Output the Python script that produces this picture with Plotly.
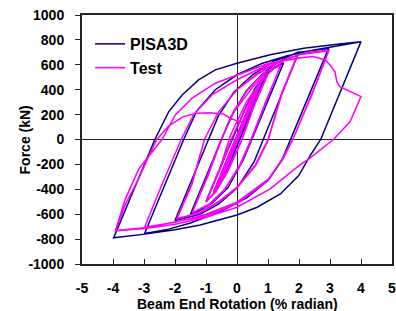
import plotly.graph_objects as go

# ---------------- PISA3D (analysis) : beam end rotation (% rad) / force (kN) ----------------
pisa_small_rot = [0, 0.375, -0.375, 0.5, -0.5]
pisa_small_f = [0, 225, -225, 300, -300]

pisa_075_rot = [0.55, 0.75, 0.03, -0.4, -0.62, -0.75]
pisa_075_f = [330, 430, 0, -250, -360, -420]

pisa_100_rot = [-0.05, 0.4, 0.62, 0.85, 1.0, 0.09, -0.3, -0.6, -0.8, -1.0]
pisa_100_f = [0, 240, 370, 480, 545, 0, -230, -380, -450, -500]

pisa_150_rot = [-0.17, 0.25, 0.6, 1.0, 1.25, 1.5, 0.48, 0.2, -0.3, -0.8, -1.2, -1.5]
pisa_150_f = [0, 240, 420, 540, 585, 615, 0, -165, -390, -510, -570, -598]

pisa_200_rot = [-0.5, -0.2, 0.3, 0.8, 1.2, 1.6, 2.0, 0.85, 0.55, 0.0, -0.6, -1.2, -2.0]
pisa_200_f = [0, 180, 390, 520, 600, 660, 705, 0, -180, -390, -520, -600, -651]

pisa_300_rot = [-0.92, -0.6, -0.1, 0.5, 1.2, 2.0, 2.95, 1.73, 1.45, 1.0, 0.3, -0.5, -1.5, -2.2, -2.98]
pisa_300_f = [0, 190, 380, 520, 630, 700, 730, 0, -165, -330, -470, -575, -670, -720, -755]

pisa_400_rot = [-1.72, -1.3, -0.7, 0.0, 0.8, 1.6, 2.4, 3.2, 4.0,
                2.7, 2.36, 1.99, 1.40, 0.65, 0.0, -1.19, -2.0, -2.97, -3.98,
                -2.65, -2.2, -1.77, -1.24, -0.70, 0.0, 1.07, 2.15, 3.23, 4.0]
pisa_400_f = [0, 230, 400, 520, 610, 670, 715, 750, 786,
              0, -129, -290, -437, -544, -606, -686, -725, -760, -790,
              0, 224, 358, 479, 559, 613, 680, 733, 765, 786]

# ---------------- Test (experiment) ----------------
test_small_rot = [0, 0.375, 0.05, -0.375, -0.05, 0.375, 0.05, -0.375,
                  0.0, 0.5, 0.1, -0.5, -0.1, 0.5, 0.1, -0.5]
test_small_f = [0, 235, 20, -225, -15, 230, 15, -220,
                10, 330, 50, -310, -50, 320, 40, -300]

test_075_rot = [0.0, 0.4, 0.75, 0.3, -0.1, -0.45, -0.75, -0.3, 0.1, 0.45, 0.75,
                0.3, -0.1, -0.45, -0.75]
test_075_f = [20, 260, 450, 170, -80, -290, -420, -160, 90, 300, 445,
              160, -90, -300, -415]

test_100_rot = [-0.3, 0.1, 0.5, 0.8, 1.0, 0.55, 0.15, -0.3, -0.7, -1.0,
                -0.55, -0.15, 0.3, 0.7, 1.0, 0.55, 0.15, -0.3, -0.7, -1.0]
test_100_f = [-150, 100, 340, 470, 530, 280, 0, -250, -420, -500,
              -240, 20, 260, 450, 525, 270, -10, -260, -425, -495]

test_150_rot = [-0.55, -0.2, 0.3, 0.8, 1.2, 1.42, 0.95, 0.45, 0.1, -0.4, -0.9, -1.45,
                -0.95, -0.5, -0.1, 0.4, 0.9, 1.4, 0.95, 0.45, 0.1, -0.4, -0.9, -1.45]
test_150_f = [-230, 40, 300, 480, 570, 600, 320, 0, -200, -400, -520, -590,
              -300, 0, 230, 420, 540, 595, 310, -10, -210, -405, -525, -588]

test_200_rot = [-0.95, -0.55, -0.1, 0.5, 1.0, 1.5, 1.95, 1.45, 1.0, 0.6, 0.0, -0.6, -1.2, -1.94,
                -1.45, -1.05, -0.6, 0.0, 0.7, 1.4, 1.95, 1.45, 1.0, 0.6, 0.0, -0.6, -1.2, -1.94]
test_200_f = [-290, -20, 220, 420, 550, 630, 680, 380, 0, -200, -383, -500, -585, -638,
              -360, 0, 220, 400, 530, 630, 675, 370, -10, -210, -390, -505, -590, -635]

test_300_rot = [-1.45, -1.05, -0.6, 0.0, 0.8, 1.6, 2.3, 2.96,
                2.4, 1.8, 1.5, 1.0, 0.0, -1.0, -2.0, -2.98,
                -2.4, -1.8, -1.4, -0.8, 0.0, 1.0, 2.0, 2.96,
                2.4, 1.8, 1.45, 1.0, 0.0]
test_300_f = [-350, 0, 220, 400, 560, 650, 700, 715,
              360, 0, -150, -320, -503, -600, -665, -704,
              -350, 0, 200, 360, 480, 600, 680, 712,
              350, 0, -160, -330, -515]

test_400_rot = [-1.0, -1.77, -2.85, -3.92,
                -3.6, -3.17, -2.42, -1.99, -1.45, -0.70, 0.0, 1.0, 2.0, 2.46,
                2.85, 3.0, 3.16, 3.22, 3.32, 4.0,
                3.65, 3.11, 2.35, 2.03, 1.07, 0.0, -1.0, -2.0, -2.9, -3.92,
                -3.6, -3.2, -2.9, -2.59, -2.2, -1.73, -1.3, -0.91, -0.44, -0.22, 0.0, 0.15]
test_400_f = [-615, -651, -704, -731,
              -477, -236, 0, 198, 332, 452, 519, 610, 655, 666,
              639, 599, 545, 465, 425, 345,
              144, 0, -150, -204, -397, -544, -625, -680, -712, -735,
              -520, -330, -164, 0, 110, 184, 210, 215, 205, 171, 150, 140]

pisa_rot = (pisa_small_rot + pisa_075_rot + pisa_100_rot + pisa_150_rot
            + pisa_200_rot + pisa_300_rot + pisa_400_rot)
pisa_force = (pisa_small_f + pisa_075_f + pisa_100_f + pisa_150_f
              + pisa_200_f + pisa_300_f + pisa_400_f)
test_rot = (test_small_rot + test_075_rot + test_100_rot + test_150_rot
            + test_200_rot + test_300_rot + test_400_rot)
test_force = (test_small_f + test_075_f + test_100_f + test_150_f
              + test_200_f + test_300_f + test_400_f)

# tick labels (hyphen-minus as in the reference)
x_tick_vals = [-5, -4, -3, -2, -1, 0, 1, 2, 3, 4, 5]
x_tick_text = ["-5", "-4", "-3", "-2", "-1", "0", "1", "2", "3", "4", "5"]
y_tick_vals = [-1000, -800, -600, -400, -200, 0, 200, 400, 600, 800, 1000]
y_tick_text = ["-1000", "-800", "-600", "-400", "-200", "0",
               "200", "400", "600", "800", "1000"]

x_title = "Beam End Rotation (% radian)"
y_title = "Force (kN)"

FONT = "Liberation Sans, Arial, sans-serif"
AX = "#222222"
TFONT = dict(family=FONT, size=14, color="black", weight="bold")

fig = go.Figure()
fig.add_trace(go.Scatter(x=pisa_rot, y=pisa_force, mode="lines", name="PISA3D",
                         line=dict(color="#000080", width=1.5)))
fig.add_trace(go.Scatter(x=test_rot, y=test_force, mode="lines", name="Test",
                         line=dict(color="#FF00FF", width=1.5)))

fig.update_layout(
    width=396, height=311,
    margin=dict(l=82, r=4, t=15, b=47, autoexpand=False),
    paper_bgcolor="white", plot_bgcolor="white",
    font=dict(family=FONT, size=14, color="black"),
    showlegend=True,
    legend=dict(x=0.026, y=0.952, xanchor="left", yanchor="top",
                bgcolor="rgba(255,255,255,0)", borderwidth=0,
                font=dict(family=FONT, size=16, color="black", weight="bold"),
                tracegroupgap=0, itemwidth=30),
    annotations=[
        dict(text=x_title, xref="paper", yref="paper", x=0.5, y=-0.162,
             xanchor="center", yanchor="middle", showarrow=False, font=TFONT),
        dict(text=y_title, xref="paper", yref="paper", x=-0.184, y=0.5,
             xanchor="center", yanchor="middle", textangle=-90,
             showarrow=False, font=TFONT),
    ],
)
fig.update_xaxes(
    range=[-5, 5], tickmode="array", tickvals=x_tick_vals, ticktext=x_tick_text,
    showgrid=False, automargin=False,
    zeroline=True, zerolinecolor=AX, zerolinewidth=1,
    showline=True, linecolor=AX, linewidth=2, mirror=True,
    ticks="inside", ticklen=5, tickcolor=AX, tickwidth=1,
    tickfont=TFONT, ticklabelstandoff=10, ticklabeloverflow="allow",
)
fig.update_yaxes(
    range=[-1000, 1000], tickmode="array", tickvals=y_tick_vals, ticktext=y_tick_text,
    showgrid=False, automargin=False,
    zeroline=True, zerolinecolor=AX, zerolinewidth=1,
    showline=True, linecolor=AX, linewidth=2, mirror=True,
    ticks="outside", ticklen=5, tickcolor=AX, tickwidth=1,
    tickfont=TFONT, ticklabelstandoff=8, ticklabeloverflow="allow",
)

fig.write_html("out.html", config={"displayModeBar": False},
               post_script="document.body.style.margin='0';document.body.style.overflow='hidden';")
